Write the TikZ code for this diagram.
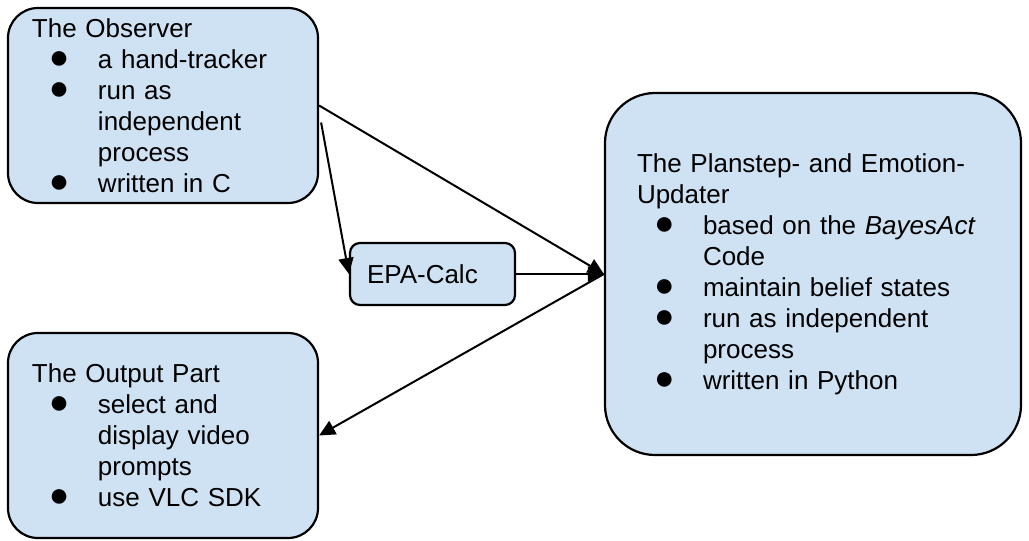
\documentclass[tikz,border=0pt]{standalone}
\usepackage{fontspec}
\setmainfont{Liberation Sans}
\usetikzlibrary{arrows.meta}
\definecolor{boxblue}{RGB}{207,226,243}
\newcommand{\bul}{\makebox[33pt][l]{\hspace{8.5pt}{\fontsize{17}{15.5}\selectfont ●}}}
\newcommand{\cont}{\hspace*{33pt}}
\tikzset{
  part/.style={draw=black, line width=1.1pt, fill=boxblue, rounded corners=15pt,
    align=left, inner ysep=0pt, font=\fontsize{13}{15.5}\selectfont},
  link/.style={line width=1pt, -{Triangle[length=8pt,width=7.5pt]}}
}
\begin{document}
\begin{tikzpicture}[x=0.5pt,y=-0.5pt]
    \useasboundingbox (0,0) rectangle (1029,541);

\node[part, minimum height=97.5pt, inner xsep=12pt, text width=131pt] (observer) at (163,105.5)
    {The Observer\\\bul a hand-tracker\\\bul run as\\\cont independent\\\cont process\\\bul written in C};
\node[part, minimum height=102.5pt, inner xsep=12pt, text width=131pt] (output) at (163,435.5)
    {The Output Part\\\bul select and\\\cont display video\\\cont prompts\\\bul use VLC SDK};
\node[part, rounded corners=5pt, minimum height=31pt, inner xsep=8.5pt, text width=65.5pt] (epa) at (432.5,274)
    {EPA-Calc};
\node[part, rounded corners=25pt, minimum height=181pt, inner xsep=16pt, text width=176pt] (updater) at (813,274)
    {The Planstep- and Emotion-\\Updater\\\bul based on the \textit{BayesAct}\\\cont Code\\\bul maintain belief states\\\bul run as independent\\\cont process\\\bul written in Python};

\draw[link] (observer.east) -- (updater.west);
\draw[link] ([xshift=1pt,yshift=-8.5pt]observer.east) -- (epa.west);
\draw[link] (epa.east) -- (updater.west);
\draw[link] (updater.west) -- (output.east);

\end{tikzpicture}
\end{document}
